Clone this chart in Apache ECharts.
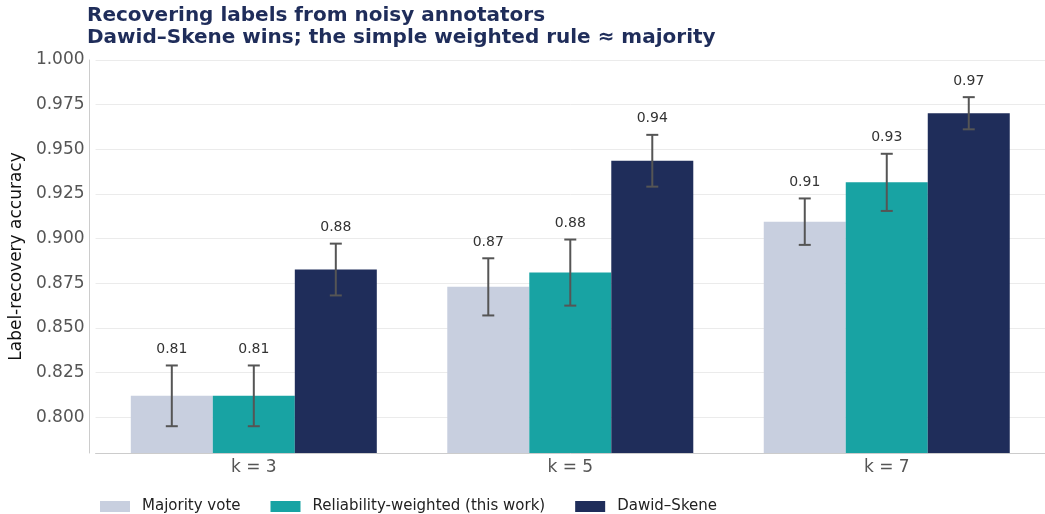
<!DOCTYPE html>
<html>
<head>
<meta charset="utf-8">
<script src="https://cdn.jsdelivr.net/npm/echarts@6/dist/echarts.min.js"></script>
<style>html,body{margin:0;padding:0;background:#fff;}#c{width:1045px;height:514px;}</style>
</head>
<body>
<div id="c"></div>
<script>
const categories = ['k = 3', 'k = 5', 'k = 7'];
const seriesNames = ['Majority vote', 'Reliability-weighted (this work)', 'Dawid–Skene'];
const majority = [0.812, 0.873, 0.9095];
const reliability = [0.812, 0.881, 0.9315];
const dawid = [0.8827, 0.9436, 0.9702];
const majorityErr = [0.017, 0.016, 0.013];
const reliabilityErr = [0.017, 0.0185, 0.016];
const dawidErr = [0.0145, 0.0145, 0.009];
const yTicks = [0.800, 0.825, 0.850, 0.875, 0.900, 0.925, 0.950, 0.975, 1.000];

const colors = ['#c8cfdf', '#18a3a3', '#1f2d5a'];
const BAR_W = 82;
const FONT = 'DejaVu Sans';

const values = [majority, reliability, dawid];
const errs = [majorityErr, reliabilityErr, dawidErr];
const errData = [];
values.forEach((arr, s) => arr.forEach((v, c) => {
  errData.push([c, s, v - errs[s][c], v + errs[s][c], v]);
}));

const chart = echarts.init(document.getElementById('c'));
const barSeries = seriesNames.map((name, i) => ({
  name: name,
  type: 'bar',
  data: values[i],
  barWidth: BAR_W,
  barGap: '0%',
  z: 2,
  itemStyle: { color: colors[i] },
  markLine: i === 0 ? {
    silent: true,
    symbol: 'none',
    precision: 4,
    z: 1,
    label: { show: false },
    lineStyle: { color: '#ebebeb', width: 1, type: 'solid' },
    data: yTicks.map(v => ({ yAxis: v }))
  } : undefined
}));

const option = {
  animation: false,
  backgroundColor: '#fff',
  title: {
    text: 'Recovering labels from noisy annotators\nDawid–Skene wins; the simple weighted rule ≈ majority',
    left: 87,
    top: 5,
    padding: 0,
    textStyle: { fontFamily: FONT, fontSize: 20, fontWeight: 'bold', color: '#1f2d5a', lineHeight: 22 }
  },
  legend: {
    data: seriesNames,
    left: 100,
    top: 499,
    padding: 0,
    itemWidth: 30,
    itemHeight: 11,
    itemGap: 30,
    icon: 'rect',
    textStyle: { fontFamily: FONT, fontSize: 15, color: '#222', padding: [0, 0, 0, 7] }
  },
  grid: { left: 92, right: 0, top: 60, bottom: 61, containLabel: false },
  xAxis: {
    type: 'category',
    data: categories,
    axisLine: { lineStyle: { color: '#cccccc', width: 1 } },
    axisTick: { show: false },
    axisLabel: { fontFamily: FONT, fontSize: 17, color: '#555', margin: 6 }
  },
  yAxis: {
    type: 'value',
    min: 0.78,
    max: 1.0,
    interval: 0.005,
    offset: 6,
    name: 'Label-recovery accuracy',
    nameLocation: 'middle',
    nameGap: 62,
    nameTextStyle: { fontFamily: FONT, fontSize: 17, color: '#111' },
    axisLine: { show: true, lineStyle: { color: '#cccccc', width: 1 } },
    axisTick: { show: false },
    splitLine: { show: false },
    axisLabel: {
      fontFamily: FONT, fontSize: 17, color: '#555', margin: 5,
      formatter: v => (Math.round(v * 1000) % 25 === 0 ? v.toFixed(3) : '')
    }
  },
  series: barSeries.concat([{
    type: 'custom',
    name: 'err',
    z: 3,
    data: errData,
    encode: { x: 0, y: [2, 3] },
    renderItem: function (params, api) {
      const c = api.value(0), s = api.value(1), lo = api.value(2), hi = api.value(3), v = api.value(4);
      const pTop = api.coord([c, hi]);
      const pBot = api.coord([c, lo]);
      const x = pTop[0] + (s - 1) * BAR_W;
      const st = { stroke: '#555', lineWidth: 2 };
      const cap = 6;
      return {
        type: 'group',
        children: [
          { type: 'line', shape: { x1: x, y1: pTop[1], x2: x, y2: pBot[1] }, style: st },
          { type: 'line', shape: { x1: x - cap, y1: pTop[1], x2: x + cap, y2: pTop[1] }, style: st },
          { type: 'line', shape: { x1: x - cap, y1: pBot[1], x2: x + cap, y2: pBot[1] }, style: st },
          { type: 'text', style: { text: v.toFixed(2), x: x, y: pTop[1] - 9, textAlign: 'center', textVerticalAlign: 'bottom',
              fontFamily: FONT, fontSize: 14, fill: '#333' } }
        ]
      };
    }
  }])
};
chart.setOption(option);
</script>
</body>
</html>
